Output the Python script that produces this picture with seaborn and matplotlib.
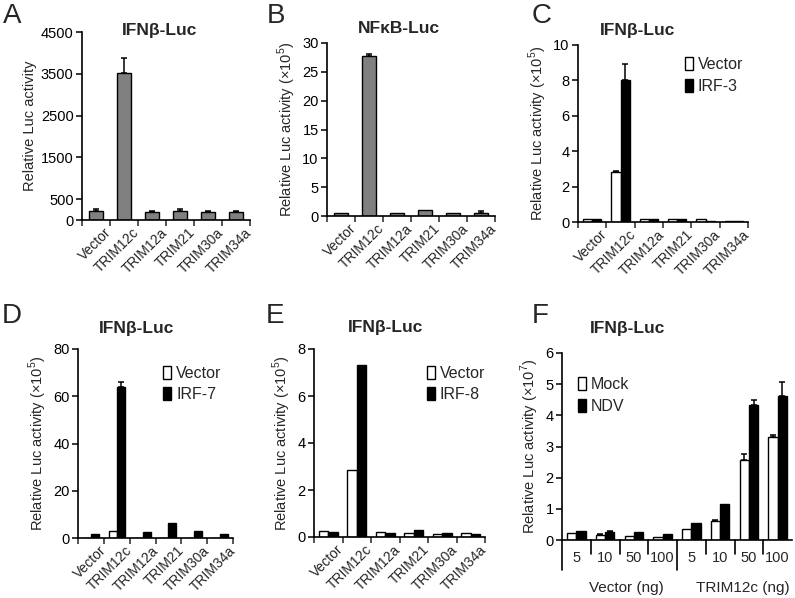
import numpy as np
import pandas as pd
import seaborn as sns
import matplotlib.pyplot as plt
import matplotlib.transforms as mtransforms

# values
constructs = ['Vector', 'TRIM12c', 'TRIM12a', 'TRIM21', 'TRIM30a', 'TRIM34a']

a_vals = [225, 3520, 185, 225, 190, 190]
a_err = [30, 360, 30, 30, 30, 30]

b_vals = [0.55, 27.7, 0.5, 1.1, 0.5, 0.55]
b_err = [0, 0.45, 0, 0, 0, 0.3]

c_vector = [0.17, 2.8, 0.15, 0.15, 0.15, 0.08]
c_vector_err = [0, 0.08, 0, 0, 0, 0]
c_irf3 = [0.17, 8.0, 0.15, 0.15, 0.08, 0.08]
c_irf3_err = [0, 0.95, 0, 0, 0, 0]

d_vector = [0, 3.0, 0, 0, 0, 0]
d_irf7 = [1.8, 64, 2.4, 6.4, 3.0, 1.8]
d_irf7_err = [0, 2, 0, 0, 0, 0]

e_vector = [0.27, 2.85, 0.2, 0.17, 0.14, 0.15]
e_irf8 = [0.22, 7.3, 0.16, 0.3, 0.15, 0.14]

f_doses = ['5', '10', '50', '100']
f_groups = ['Vector (ng)', 'TRIM12c (ng)']
f_mock = [0.21, 0.17, 0.13, 0.11, 0.35, 0.62, 2.57, 3.32]
f_mock_err = [0, 0.03, 0, 0, 0, 0.02, 0.2, 0.05]
f_ndv = [0.3, 0.26, 0.25, 0.2, 0.55, 1.15, 4.32, 4.63]
f_ndv_err = [0, 0.03, 0, 0, 0, 0, 0.18, 0.45]

sns.set_theme(style='white')
plt.rcParams['font.family'] = ['Liberation Sans', 'DejaVu Sans']
plt.rcParams['mathtext.fontset'] = 'custom'
plt.rcParams['mathtext.rm'] = 'Liberation Sans'
plt.rcParams['axes.linewidth'] = 1.2

W, H = 795, 598
fig = plt.figure(figsize=(W / 100, H / 100), dpi=100)


def add_ax(left, right, top, bottom):
    return fig.add_axes([left / W, 1 - bottom / H, (right - left) / W, (bottom - top) / H])


def style_ax(ax, ymax, yticks, ylabel, n, rotate=True, labels=None):
    sns.despine(ax=ax)
    ax.set_xlim(-0.5, n - 0.5)
    ax.set_ylim(0, ymax)
    ax.set_yticks(yticks)
    ax.set_ylabel(ylabel, fontsize=10.5, labelpad=3)
    ax.set_xlabel('')
    ax.tick_params(axis='y', direction='out', length=4, width=1.1, left=True,
                   labelsize=10.5, pad=2, colors='black')
    ax.set_xticks(np.arange(n))
    ax.set_xticks(np.arange(n + 1) - 0.5, minor=True)
    ax.tick_params(axis='x', which='major', length=0, labelsize=10, pad=4)
    ax.tick_params(axis='x', which='minor', direction='out', length=4, width=1.1, bottom=True)
    if rotate:
        ax.set_xticklabels(labels, rotation=45, ha='right', va='top', rotation_mode='anchor')
        off = mtransforms.ScaledTranslation(6 / 72, 0, fig.dpi_scale_trans)
        for t in ax.get_xticklabels():
            t.set_transform(t.get_transform() + off)
    for s in ax.spines.values():
        s.set_color('black')


def add_err(ax, errs):
    for cont, err in zip(ax.containers, errs):
        for p, e in zip(cont.patches, err):
            if e > 0:
                ax.errorbar(p.get_x() + p.get_width() / 2, p.get_height(), yerr=[[0], [e]],
                            fmt='none', ecolor='black', elinewidth=1.1, capsize=2.5, capthick=1.1)


def grouped(ax, cats, s1, s2, names, width=0.65):
    df = pd.DataFrame({'x': list(cats) * 2, 'v': list(s1) + list(s2),
                       'g': [names[0]] * len(cats) + [names[1]] * len(cats)})
    sns.barplot(data=df, x='x', y='v', hue='g', order=list(cats), hue_order=names,
                palette=['white', 'black'], edgecolor='black', linewidth=1,
                width=width, errorbar=None, ax=ax)
    if ax.get_legend() is not None:
        ax.get_legend().remove()


def legend(ax, x, y):
    h, l = ax.get_legend_handles_labels()
    ax.legend(h, l, loc='upper left', bbox_to_anchor=(x, y), frameon=False, fontsize=11.5,
              handlelength=0.5, handleheight=0.85, handletextpad=0.3, labelspacing=0.4,
              borderaxespad=0, borderpad=0)


def title(ax, text, x, y):
    ax.text(x, y, text, transform=ax.transAxes, ha='center', va='baseline',
            fontsize=12.5, fontweight='bold')


ylab5 = 'Relative Luc activity (×10$^{5}$)'

# A
ax = add_ax(82, 250, 32, 220)
sns.barplot(x=constructs, y=a_vals, color='#808080', edgecolor='black', linewidth=1,
            width=0.5, ax=ax)
add_err(ax, [a_err])
style_ax(ax, 4500, [0, 500, 1500, 2500, 3500, 4500], 'Relative Luc activity', 6, labels=constructs)
title(ax, 'IFNβ-Luc', 0.46, 0.985)

# B
ax = add_ax(327, 495, 43, 216)
sns.barplot(x=constructs, y=b_vals, color='#808080', edgecolor='black', linewidth=1,
            width=0.5, ax=ax)
add_err(ax, [b_err])
style_ax(ax, 30, np.arange(0, 31, 5), ylab5, 6, labels=constructs)
title(ax, 'NFκB-Luc', 0.43, 1.06)

# C
ax = add_ax(578, 748, 45, 222)
grouped(ax, constructs, c_vector, c_irf3, ['Vector', 'IRF-3'])
add_err(ax, [c_vector_err, c_irf3_err])
style_ax(ax, 10, np.arange(0, 11, 2), ylab5, 6, labels=constructs)
legend(ax, 0.63, 0.93)
title(ax, 'IFNβ-Luc', 0.35, 1.056)

# D
ax = add_ax(78, 233, 349, 538)
grouped(ax, constructs, d_vector, d_irf7, ['Vector', 'IRF-7'], width=0.62)
add_err(ax, [[0] * 6, d_irf7_err])
style_ax(ax, 80, np.arange(0, 81, 20), ylab5, 6, labels=constructs)
legend(ax, 0.55, 0.91)
title(ax, 'IFNβ-Luc', 0.38, 1.085)

# E
ax = add_ax(314, 485, 349, 537)
grouped(ax, constructs, e_vector, e_irf8, ['Vector', 'IRF-8'])
style_ax(ax, 8, np.arange(0, 9, 2), ylab5, 6, labels=constructs)
legend(ax, 0.66, 0.91)
title(ax, 'IFNβ-Luc', 0.42, 1.09)

# F
ax = add_ax(562, 792, 353, 540)
f_cats = [f'{g}|{d}' for g in f_groups for d in f_doses]
grouped(ax, f_cats, f_mock, f_ndv, ['Mock', 'NDV'])
add_err(ax, [f_mock_err, f_ndv_err])
style_ax(ax, 6, np.arange(0, 7, 1), 'Relative Luc activity (×10$^{7}$)', 8, rotate=False)
ax.set_xticklabels(f_doses * 2)
ax.tick_params(axis='x', which='major', length=0, pad=8, labelsize=10.5)
ax.tick_params(axis='x', which='minor', length=0)
ax.spines['left'].set_bounds(0, 6)
trans = ax.get_xaxis_transform()
for i in range(8):
    xb = i - 0.5
    if i == 0 or i == 4:
        ax.plot([xb, xb], [0, -0.16], color='black', lw=1.2, transform=trans, clip_on=False)
    else:
        ax.plot([xb, xb], [0, -0.075], color='black', lw=1.2, transform=trans, clip_on=False)
ax.text(1.75, -0.255, f_groups[0], transform=trans, ha='center', va='center', fontsize=11)
ax.text(5.8, -0.255, f_groups[1], transform=trans, ha='center', va='center', fontsize=11)
legend(ax, 0.07, 0.87)
title(ax, 'IFNβ-Luc', 0.285, 1.107)

# panel letters
for letter, (px, py) in zip('ABCDEF', [(3, 3), (267, 3), (532, 3), (2, 303), (266, 303), (532, 303)]):
    fig.text(px / W, 1 - py / H, letter, ha='left', va='top', fontsize=20)

fig.savefig('out.png', dpi=100)
